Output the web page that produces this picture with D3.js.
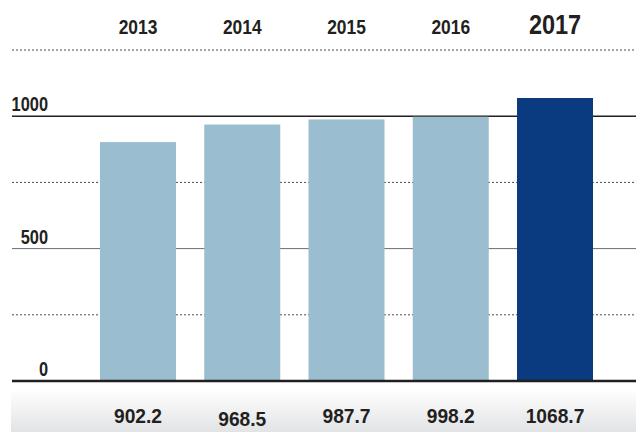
<!DOCTYPE html>
<html>
<head>
<meta charset="utf-8">
<script src="https://cdn.jsdelivr.net/npm/d3@7"></script>
<style>
  body { margin: 0; background: #fff; }
  text { font-family: "Liberation Sans", Arial, sans-serif; font-weight: bold; fill: #231f20; }
</style>
</head>
<body>
<div id="chart"></div>
<script>
// data
var years = ["2013", "2014", "2015", "2016", "2017"];
var values = [902.2, 968.5, 987.7, 998.2, 1068.7];
var valueLabels = ["902.2", "968.5", "987.7", "998.2", "1068.7"];
var gridTicks = [250, 500, 750, 1000, 1250];
var labelTicks = [0, 500, 1000];

var w = 636;
var h = 432;

var svg = d3.select("#chart")
  .append("svg")
  .attr("width", w)
  .attr("height", h);

// scales
var xScale = d3.scaleBand()
  .domain(years)
  .range([100, 593])
  .paddingInner(0.271)
  .paddingOuter(0);

var yScale = d3.scaleLinear()
  .domain([0, 1250])
  .range([381, 50]);

// squeeze text horizontally for the condensed look
function place(x, y, k) {
  return "translate(" + x + "," + y + ") scale(" + k + ",1)";
}

// gradient for bottom strip
var grad = svg.append("defs").append("linearGradient")
  .attr("id", "strip")
  .attr("x1", 0).attr("y1", 0).attr("x2", 0).attr("y2", 1);
grad.append("stop").attr("offset", "0%").attr("stop-color", "#ffffff");
grad.append("stop").attr("offset", "100%").attr("stop-color", "#e2e3e5");

svg.append("rect")
  .attr("x", 11)
  .attr("y", 389)
  .attr("width", w - 11)
  .attr("height", h - 389)
  .attr("fill", "url(#strip)");

// gridlines
svg.append("g")
  .selectAll("line")
  .data(gridTicks)
  .enter()
  .append("line")
  .attr("x1", 12)
  .attr("x2", w)
  .attr("y1", function(d) { return yScale(d); })
  .attr("y2", function(d) { return yScale(d); })
  .attr("stroke", function(d) { return d === 1000 ? "#231f20" : (d === 500 ? "#6d6e71" : "#4d4d4f"); })
  .attr("stroke-width", function(d) { return d === 1000 ? 1.4 : 1; })
  .attr("stroke-dasharray", function(d) { return d % 500 === 0 ? null : "2,2"; });

// bars
svg.append("g")
  .selectAll("rect")
  .data(values)
  .enter()
  .append("rect")
  .attr("x", function(d, i) { return xScale(years[i]); })
  .attr("y", function(d) { return yScale(d); })
  .attr("width", xScale.bandwidth())
  .attr("height", function(d) { return yScale(0) - yScale(d); })
  .attr("fill", function(d, i) { return i === years.length - 1 ? "#0a3a80" : "#9bbdd0"; });

// baseline
svg.append("line")
  .attr("x1", 12)
  .attr("x2", w)
  .attr("y1", yScale(0))
  .attr("y2", yScale(0))
  .attr("stroke", "#231f20")
  .attr("stroke-width", 2.5);

// y labels
svg.append("g")
  .selectAll("text")
  .data(labelTicks)
  .enter()
  .append("text")
  .attr("transform", function(d) { return place(48, yScale(d) - 5, 0.82); })
  .attr("text-anchor", "end")
  .attr("font-size", "20px")
  .text(function(d) { return d; });

// year labels
svg.append("g")
  .selectAll("text")
  .data(years)
  .enter()
  .append("text")
  .attr("transform", function(d) { return place(xScale(d) + xScale.bandwidth() / 2, 34, 0.87); })
  .attr("text-anchor", "middle")
  .attr("font-size", function(d, i) { return i === years.length - 1 ? "27px" : "20px"; })
  .text(function(d) { return d; });

// value labels
svg.append("g")
  .selectAll("text")
  .data(valueLabels)
  .enter()
  .append("text")
  .attr("transform", function(d, i) {
    return place(xScale(years[i]) + xScale.bandwidth() / 2, i === 1 ? 426 : 423, 0.96);
  })
  .attr("text-anchor", "middle")
  .attr("font-size", "20px")
  .text(function(d) { return d; });
</script>
</body>
</html>
